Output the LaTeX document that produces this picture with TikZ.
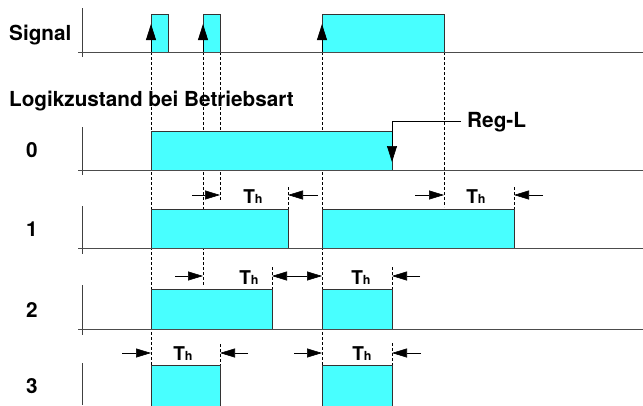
\documentclass[tikz,border=0pt]{standalone}
\usepackage{fontspec}
\setmainfont{TeX Gyre Heros}
\usetikzlibrary{arrows.meta}
\definecolor{pcyan}{RGB}{72,255,255}
\newcommand\ThLabel{{\fontsize{19pt}{19pt}\selectfont\bfseries T}{\fontsize{12.5pt}{12.5pt}\selectfont\bfseries h}}
\begin{document}
\begin{tikzpicture}[x=1pt,y=-1pt,
  axisline/.style={draw=black!75, line width=0.8pt},
  baseline/.style={draw=black!70, line width=0.9pt},
  pulse/.style={fill=pcyan, draw=black!80, line width=0.8pt},
  guide/.style={draw=black, dash pattern=on 3pt off 2pt, line width=0.6pt},
  dimarrow/.style={draw=black, line width=0.6pt, -{Triangle[length=15pt,width=9pt]}},
  dimboth/.style={draw=black, line width=0.6pt, {Triangle[length=15pt,width=9pt]}-{Triangle[length=15pt,width=9pt]}},
  sigarrow/.style={draw=black, line width=0.8pt, -{Triangle[length=16pt,width=10pt]}},
  lbl/.style={font=\fontsize{20.7pt}{24pt}\selectfont\bfseries, inner sep=0pt},
  thlbl/.style={inner sep=0pt, anchor=base},
]
\useasboundingbox (0,0) rectangle (643,405);

% ---------- guide lines (dashed) ----------
\draw[guide] (151,52) -- (151,405);
\draw[guide] (203,52) -- (203,285);
\draw[guide] (220,52) -- (220,200);
\draw[guide] (220,344) -- (220,365);
\draw[guide] (322,52) -- (322,405);
\draw[guide] (444,52) -- (444,207);
\draw[guide] (288,187) -- (288,209);
\draw[guide] (514,187) -- (514,209);
\draw[guide] (272,267) -- (272,289);
\draw[guide] (392,267) -- (392,289);
\draw[guide] (392,343) -- (392,365);

% ---------- Signal ----------
\node[lbl, anchor=base west] (sig) at (9,40) {Signal};
\draw[axisline] (82,8) -- (82,57);
\draw[pulse] (151,52) rectangle (168,14);
\draw[pulse] (203,52) rectangle (220,14);
\draw[pulse] (322,52) rectangle (444,14);
\draw[baseline] (78,52) -- (643,52);
\draw[sigarrow] (151,52) -- (151,24);
\draw[sigarrow] (203,52) -- (203,24);
\draw[sigarrow] (322,52) -- (322,24);

\node[lbl, anchor=base west] (logik) at (9,106) {Logikzustand bei Betriebsart};

% ---------- Row 0 ----------
\node[lbl, anchor=base] (r0) at (32,157) {0};
\draw[axisline] (82,127) -- (82,175);
\draw[pulse] (151,170) rectangle (392,131);
\draw[baseline] (78,170) -- (643,170);
\coordinate (regend) at (461,121);
\node[font=\fontsize{20.8pt}{24pt}\selectfont\bfseries, inner sep=0pt, anchor=base west] (regl) at (467,127) {Reg-L};
\draw[draw=black, line width=0.7pt, -{Triangle[length=16pt,width=10pt]}] (regend) -- (392,121) -- (392,162);

% ---------- Row 1 ----------
\node[lbl, anchor=base] (r1) at (32,236) {1};
\draw[axisline] (82,206) -- (82,254);
\draw[pulse] (151,248) rectangle (288,209);
\draw[pulse] (322,248) rectangle (514,209);
\draw[baseline] (78,248) -- (643,248);
\draw[dimarrow] (192,195) -- (220,195);
\node[thlbl] (th1a) at (253,203) {\ThLabel};
\draw[dimarrow] (318,195) -- (288,195);
\draw[dimarrow] (415,195) -- (444,195);
\node[thlbl] (th1b) at (476,203) {\ThLabel};
\draw[dimarrow] (543,195) -- (514,195);

% ---------- Row 2 ----------
\node[lbl, anchor=base] (r2) at (32,317) {2};
\draw[axisline] (82,285) -- (82,335);
\draw[pulse] (151,329) rectangle (272,289);
\draw[pulse] (322,329) rectangle (392,289);
\draw[baseline] (78,329) -- (643,329);
\draw[dimarrow] (175,276) -- (203,276);
\node[thlbl] (th2a) at (249,284) {\ThLabel};
\draw[dimboth] (272,276) -- (322,276);
\node[thlbl] (th2b) at (361,284) {\ThLabel};
\draw[dimarrow] (420,276) -- (392,276);

% ---------- Row 3 ----------
\node[lbl, anchor=base] (r3) at (32,393) {3};
\draw[axisline] (82,363) -- (82,405);
\draw[pulse] (151,408) rectangle (220,365);
\draw[pulse] (322,408) rectangle (392,365);
\draw[dimarrow] (122,353) -- (151,353);
\node[thlbl] (th3a) at (183,360) {\ThLabel};
\draw[dimarrow] (248,353) -- (220,353);
\draw[dimarrow] (294,353) -- (322,353);
\node[thlbl] (th3b) at (362,360) {\ThLabel};
\draw[dimarrow] (421,353) -- (392,353);
\end{tikzpicture}
\end{document}
